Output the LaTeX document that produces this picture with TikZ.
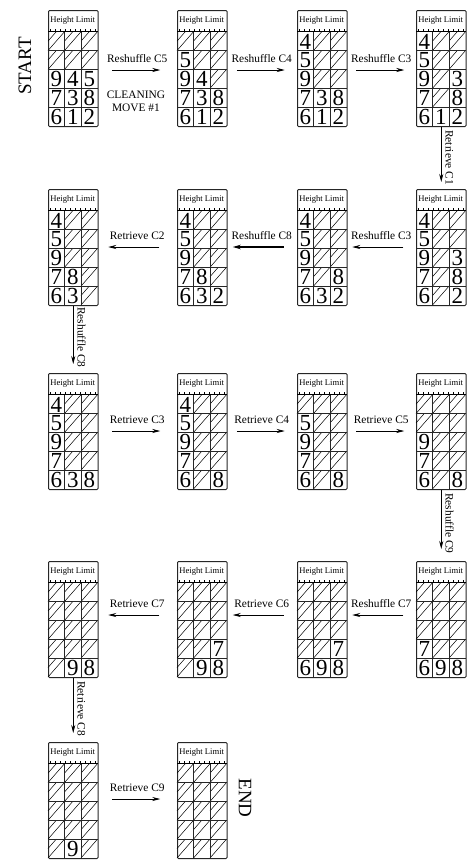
\documentclass[tikz,border=0pt]{standalone}
\usepackage{fontspec}
\setmainfont{Liberation Serif}
\usetikzlibrary{arrows.meta,calc}
\tikzset{
 baybox/.style={draw=black!85, line width=1pt, rounded corners=1pt, minimum width=49.5pt, minimum height=116pt, inner sep=0pt},
 hdr/.style={font=\fontsize{8.6}{9}\selectfont, inner sep=0pt},
 digit/.style={font=\fontsize{23}{23}\selectfont, inner sep=0pt, text height=15.5pt, text depth=0pt},
 gridline/.style={line width=0.8pt, draw=black!85},
 tickline/.style={line width=1.1pt, draw=black},
 hatchline/.style={line width=0.5pt, draw=black},
 lbl/.style={font=\fontsize{11.4}{13}\selectfont, inner sep=0pt},
 bigl/.style={font=\fontsize{19}{20}\selectfont, inner sep=0pt},
 flow/.style={line width=0.7pt, -{Stealth[length=8pt,width=4pt]}},
 flowb/.style={line width=1.2pt, -{Stealth[length=8pt,width=4.5pt]}},
}
\newcommand\bay[4]{%
 \node[baybox, anchor=north west] (#1) at (#2,#3) {};
 \begin{scope}[shift={(#2,#3)}]
  \node[hdr] (#1h) at (24.75,10.7) {Height Limit};
  \foreach \v [count=\i from 0] in {#4} {
    \pgfmathtruncatemacro\r{div(\i,3)}
    \pgfmathtruncatemacro\c{mod(\i,3)}
    \pgfmathsetmacro\xa{\c*16.5}
    \pgfmathsetmacro\ya{21.7+\r*18.86}
    \ifnum\v=0
      \draw[hatchline] (\xa,\ya+18.86) -- (\xa+16.5,\ya);
      \draw[hatchline] (\xa,\ya+9.43) -- (\xa+8.25,\ya);
    \else
      \node[digit] (#1c\i) at (\xa+8.25,\ya+9.6) {\v};
    \fi
  }
  \foreach \k in {1,2,3,4} \draw[gridline] (0,21.7+\k*18.86) -- (49.5,21.7+\k*18.86);
  \draw[gridline] (16.5,21.7) -- (16.5,116);
  \draw[gridline] (33,21.7) -- (33,116);
  \draw[tickline] (0,21.7) -- (49.5,21.7);
  \foreach \t in {2.5,7.5,...,47.5} \draw[line width=0.6pt] (\t,21.7) -- (\t,18.9);
 \end{scope}}
\newcommand\rarrow[5]{% name, mid, y, label, style
 \coordinate (#1s) at (#2-25,#3);
 \coordinate (#1e) at (#2+23,#3);
 \draw[#5] (#1s) -- (#1e);
 \node[lbl] (#1l) at (#2,#3-11) {#4};}
\newcommand\larrow[5]{%
 \coordinate (#1s) at (#2+22,#3);
 \coordinate (#1e) at (#2-29,#3);
 \draw[#5] (#1s) -- (#1e);
 \node[lbl] (#1l) at (#2,#3-11) {#4};}
\begin{document}
\begin{tikzpicture}[x=1pt,y=-1pt]
\useasboundingbox (0,0) rectangle (475,865);
% row 1
\bay{b11}{48}{10}{0,0,0, 0,0,0, 9,4,5, 7,3,8, 6,1,2}
\bay{b12}{177}{10}{0,0,0, 5,0,0, 9,4,0, 7,3,8, 6,1,2}
\bay{b13}{297}{10}{4,0,0, 5,0,0, 9,0,0, 7,3,8, 6,1,2}
\bay{b14}{416}{10}{4,0,0, 5,0,0, 9,0,3, 7,0,8, 6,1,2}
% row 2
\bay{b24}{416}{189}{4,0,0, 5,0,0, 9,0,3, 7,0,8, 6,0,2}
\bay{b23}{297}{189}{4,0,0, 5,0,0, 9,0,0, 7,0,8, 6,3,2}
\bay{b22}{177}{189}{4,0,0, 5,0,0, 9,0,0, 7,8,0, 6,3,2}
\bay{b21}{48}{189}{4,0,0, 5,0,0, 9,0,0, 7,8,0, 6,3,0}
% row 3
\bay{b31}{48}{373}{4,0,0, 5,0,0, 9,0,0, 7,0,0, 6,3,8}
\bay{b32}{177}{373}{4,0,0, 5,0,0, 9,0,0, 7,0,0, 6,0,8}
\bay{b33}{297}{373}{0,0,0, 5,0,0, 9,0,0, 7,0,0, 6,0,8}
\bay{b34}{416}{373}{0,0,0, 0,0,0, 9,0,0, 7,0,0, 6,0,8}
% row 4
\bay{b44}{416}{561}{0,0,0, 0,0,0, 0,0,0, 7,0,0, 6,9,8}
\bay{b43}{297}{561}{0,0,0, 0,0,0, 0,0,0, 0,0,7, 6,9,8}
\bay{b42}{177}{561}{0,0,0, 0,0,0, 0,0,0, 0,0,7, 0,9,8}
\bay{b41}{48}{561}{0,0,0, 0,0,0, 0,0,0, 0,0,0, 0,9,8}
% row 5
\bay{b51}{48}{742}{0,0,0, 0,0,0, 0,0,0, 0,0,0, 0,9,0}
\bay{b52}{177}{742}{0,0,0, 0,0,0, 0,0,0, 0,0,0, 0,0,0}
% horizontal moves
\rarrow{m11}{137.25}{70}{Reshuffle C5}{flow}
\node[lbl, align=center] (clean) at (136,101.5) {CLEANING\\MOVE \#1};
\rarrow{m12}{261.75}{70}{Reshuffle C4}{flow}
\rarrow{m13}{381.25}{70}{Reshuffle C3}{flow}
\larrow{m23}{381.25}{247}{Reshuffle C3}{flow}
\larrow{m22}{261.75}{247}{Reshuffle C8}{flowb}
\larrow{m21}{137.25}{247}{Retrieve C2}{flow}
\rarrow{m31}{137.25}{431}{Retrieve C3}{flow}
\rarrow{m32}{261.75}{431}{Retrieve C4}{flow}
\rarrow{m33}{381.25}{431}{Retrieve C5}{flow}
\larrow{m43}{381.25}{615}{Reshuffle C7}{flow}
\larrow{m42}{261.75}{615}{Retrieve C6}{flow}
\larrow{m41}{137.25}{615}{Retrieve C7}{flow}
\rarrow{m51}{137.25}{799}{Retrieve C9}{flow}
% vertical moves
\draw[flow] (b14.south) -- ($(b24.north)+(0,-7)$);
\node[lbl, rotate=-90, anchor=south west] (v1) at ($(b14.south)+(4,3)$) {Retrieve C1};
\draw[flow] (b21.south) -- ($(b31.north)+(0,-9)$);
\node[lbl, rotate=-90, anchor=south west] (v2) at ($(b21.south)+(4,1)$) {Reshuffle C8};
\draw[flow] (b34.south) -- ($(b44.north)+(0,-12)$);
\node[lbl, rotate=-90, anchor=south west] (v3) at ($(b34.south)+(4,3)$) {Reshuffle C9};
\draw[flow] (b41.south) -- ($(b51.north)+(0,-9)$);
\node[lbl, rotate=-90, anchor=south west] (v4) at ($(b41.south)+(4,3)$) {Retrieve C8};
% start / end
\node[bigl, rotate=90] (start) at (25,66) {START};
\node[bigl, rotate=-90] (end) at (245,798) {END};
\end{tikzpicture}
\end{document}
